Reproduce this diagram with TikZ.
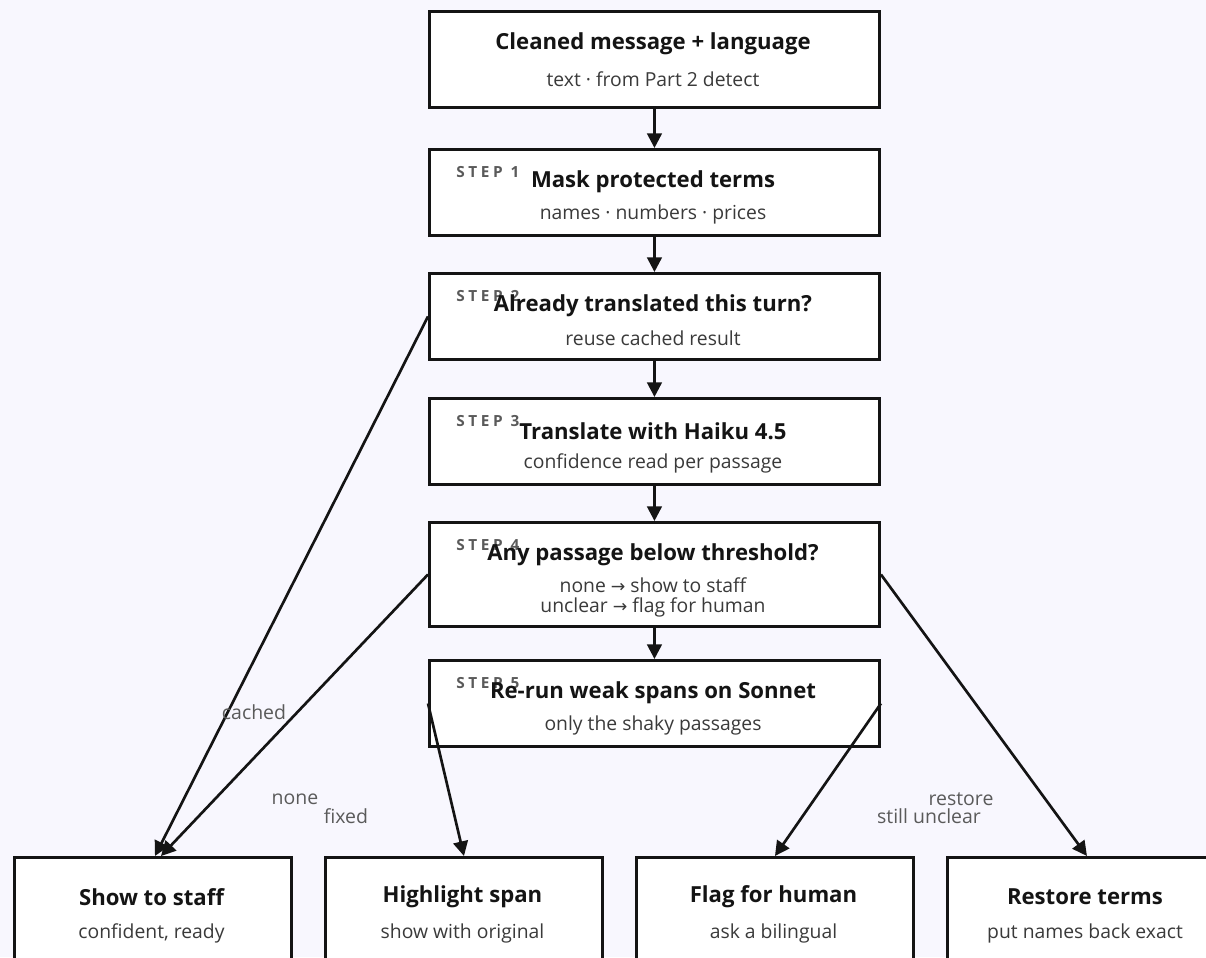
\documentclass[tikz,border=0pt]{standalone}
\usepackage{fontspec}
\setmainfont{Open Sans}
\newfontfamily\symfont{DejaVu Sans}
\usetikzlibrary{arrows.meta}
\definecolor{bgc}{HTML}{F8F7FE}
\definecolor{ink}{HTML}{141414}
\definecolor{subc}{HTML}{3A3A3A}
\definecolor{tagc}{HTML}{5A5A5A}
\newcommand{\toarrow}{{\symfont\fontsize{13}{15}\selectfont →}}
\begin{document}
\begin{tikzpicture}[x=0.75pt,y=-0.75pt,
  box/.style={draw=ink,fill=white,line width=2.2pt,anchor=north west,inner sep=0pt},
  ttl/.style={font=\bfseries\fontsize{16.6}{19}\selectfont,text=ink,inner sep=0pt},
  sub/.style={font=\fontsize{14.5}{16}\selectfont,text=subc,inner sep=0pt,align=center},
  tag/.style={font=\bfseries\fontsize{11.5}{13}\selectfont\addfontfeature{LetterSpace=24},text=tagc,inner sep=0pt,anchor=north west},
  elab/.style={font=\fontsize{14.6}{16}\selectfont,text=tagc,inner sep=0pt},
  flow/.style={draw=ink,line width=2pt,-{Triangle[length=11pt,width=11pt]}},
]
\useasboundingbox (0,0) rectangle (1206,957);
\fill[bgc] (0,0) rectangle (1206,957);
\clip (0,0) rectangle (1206,957);

% main column
\node[box,minimum width=450*0.75pt,minimum height=96*0.75pt] (src) at (428,10) {};
\node[ttl] (srct) at (653,44) {Cleaned message + language};
\node[sub] (srcs) at (653,79) {text · from Part 2 detect};

\node[box,minimum width=450*0.75pt,minimum height=86*0.75pt] (s1) at (428,148) {};
\node[tag] (s1g) at (456,166) {STEP 1};
\node[ttl] (s1t) at (653,182) {Mask protected terms};
\node[sub] (s1s) at (653,214) {names · numbers · prices};

\node[box,minimum width=450*0.75pt,minimum height=86*0.75pt] (s2) at (428,272) {};
\node[tag] (s2g) at (456,290) {STEP 2};
\node[ttl] (s2t) at (653,306) {Already translated this turn?};
\node[sub] (s2s) at (653,338) {reuse cached result};

\node[box,minimum width=450*0.75pt,minimum height=86*0.75pt] (s3) at (428,397) {};
\node[tag] (s3g) at (456,415) {STEP 3};
\node[ttl] (s3t) at (653,431) {Translate with Haiku 4.5};
\node[sub] (s3s) at (653,463) {confidence read per passage};

\node[box,minimum width=450*0.75pt,minimum height=104*0.75pt] (s4) at (428,521) {};
\node[tag] (s4g) at (456,539) {STEP 4};
\node[ttl] (s4t) at (653,555) {Any passage below threshold?};
\node[sub] (s4s) at (653,597) {none \toarrow{} show to staff\\[-1pt]unclear \toarrow{} flag for human};

\node[box,minimum width=450*0.75pt,minimum height=86*0.75pt] (s5) at (428,659) {};
\node[tag] (s5g) at (456,677) {STEP 5};
\node[ttl] (s5t) at (653,693) {Re-run weak spans on Sonnet};
\node[sub] (s5s) at (653,725) {only the shaky passages};

% outcomes
\node[box,minimum width=277*0.75pt,minimum height=140*0.75pt] (show) at (13,856) {};
\node[ttl] (showt) at (151.5,897) {Show to staff};
\node[sub] (shows) at (151.5,933) {confident, ready};

\node[box,minimum width=277*0.75pt,minimum height=140*0.75pt] (hl) at (324,856) {};
\node[ttl] (hlt) at (462.5,897) {Highlight span};
\node[sub] (hls) at (462.5,933) {show with original};

\node[box,minimum width=277*0.75pt,minimum height=140*0.75pt] (flag) at (635,856) {};
\node[ttl] (flagt) at (773.5,897) {Flag for human};
\node[sub] (flags) at (773.5,933) {ask a bilingual};

\node[box,minimum width=279*0.75pt,minimum height=140*0.75pt] (rest) at (946,856) {};
\node[ttl] (restt) at (1085,897) {Restore terms};
\node[sub] (rests) at (1085,933) {put names back exact};

% connectors
\draw[flow] (src) -- (s1);
\draw[flow] (s1) -- (s2);
\draw[flow] (s2) -- (s3);
\draw[flow] (s3) -- (s4);
\draw[flow] (s4) -- (s5);
\draw[flow] (s2.west) -- ([xshift=1.5pt]show.north);
\draw[flow] (s4.west) -- ([xshift=6pt]show.north);
\draw[flow] (s5.west) -- (hl.north);
\draw[flow] (s5.east) -- (flag.north);
\draw[flow] (s4.east) -- (rest.north);

% connector labels
\node[elab] (lc) at (254,712) {cached};
\node[elab] (ln) at (295,799) {none};
\node[elab] (lf) at (346,816) {fixed};
\node[elab] (lr) at (961,799) {restore};
\node[elab] (lu) at (929,816) {still unclear};
\end{tikzpicture}
\end{document}
